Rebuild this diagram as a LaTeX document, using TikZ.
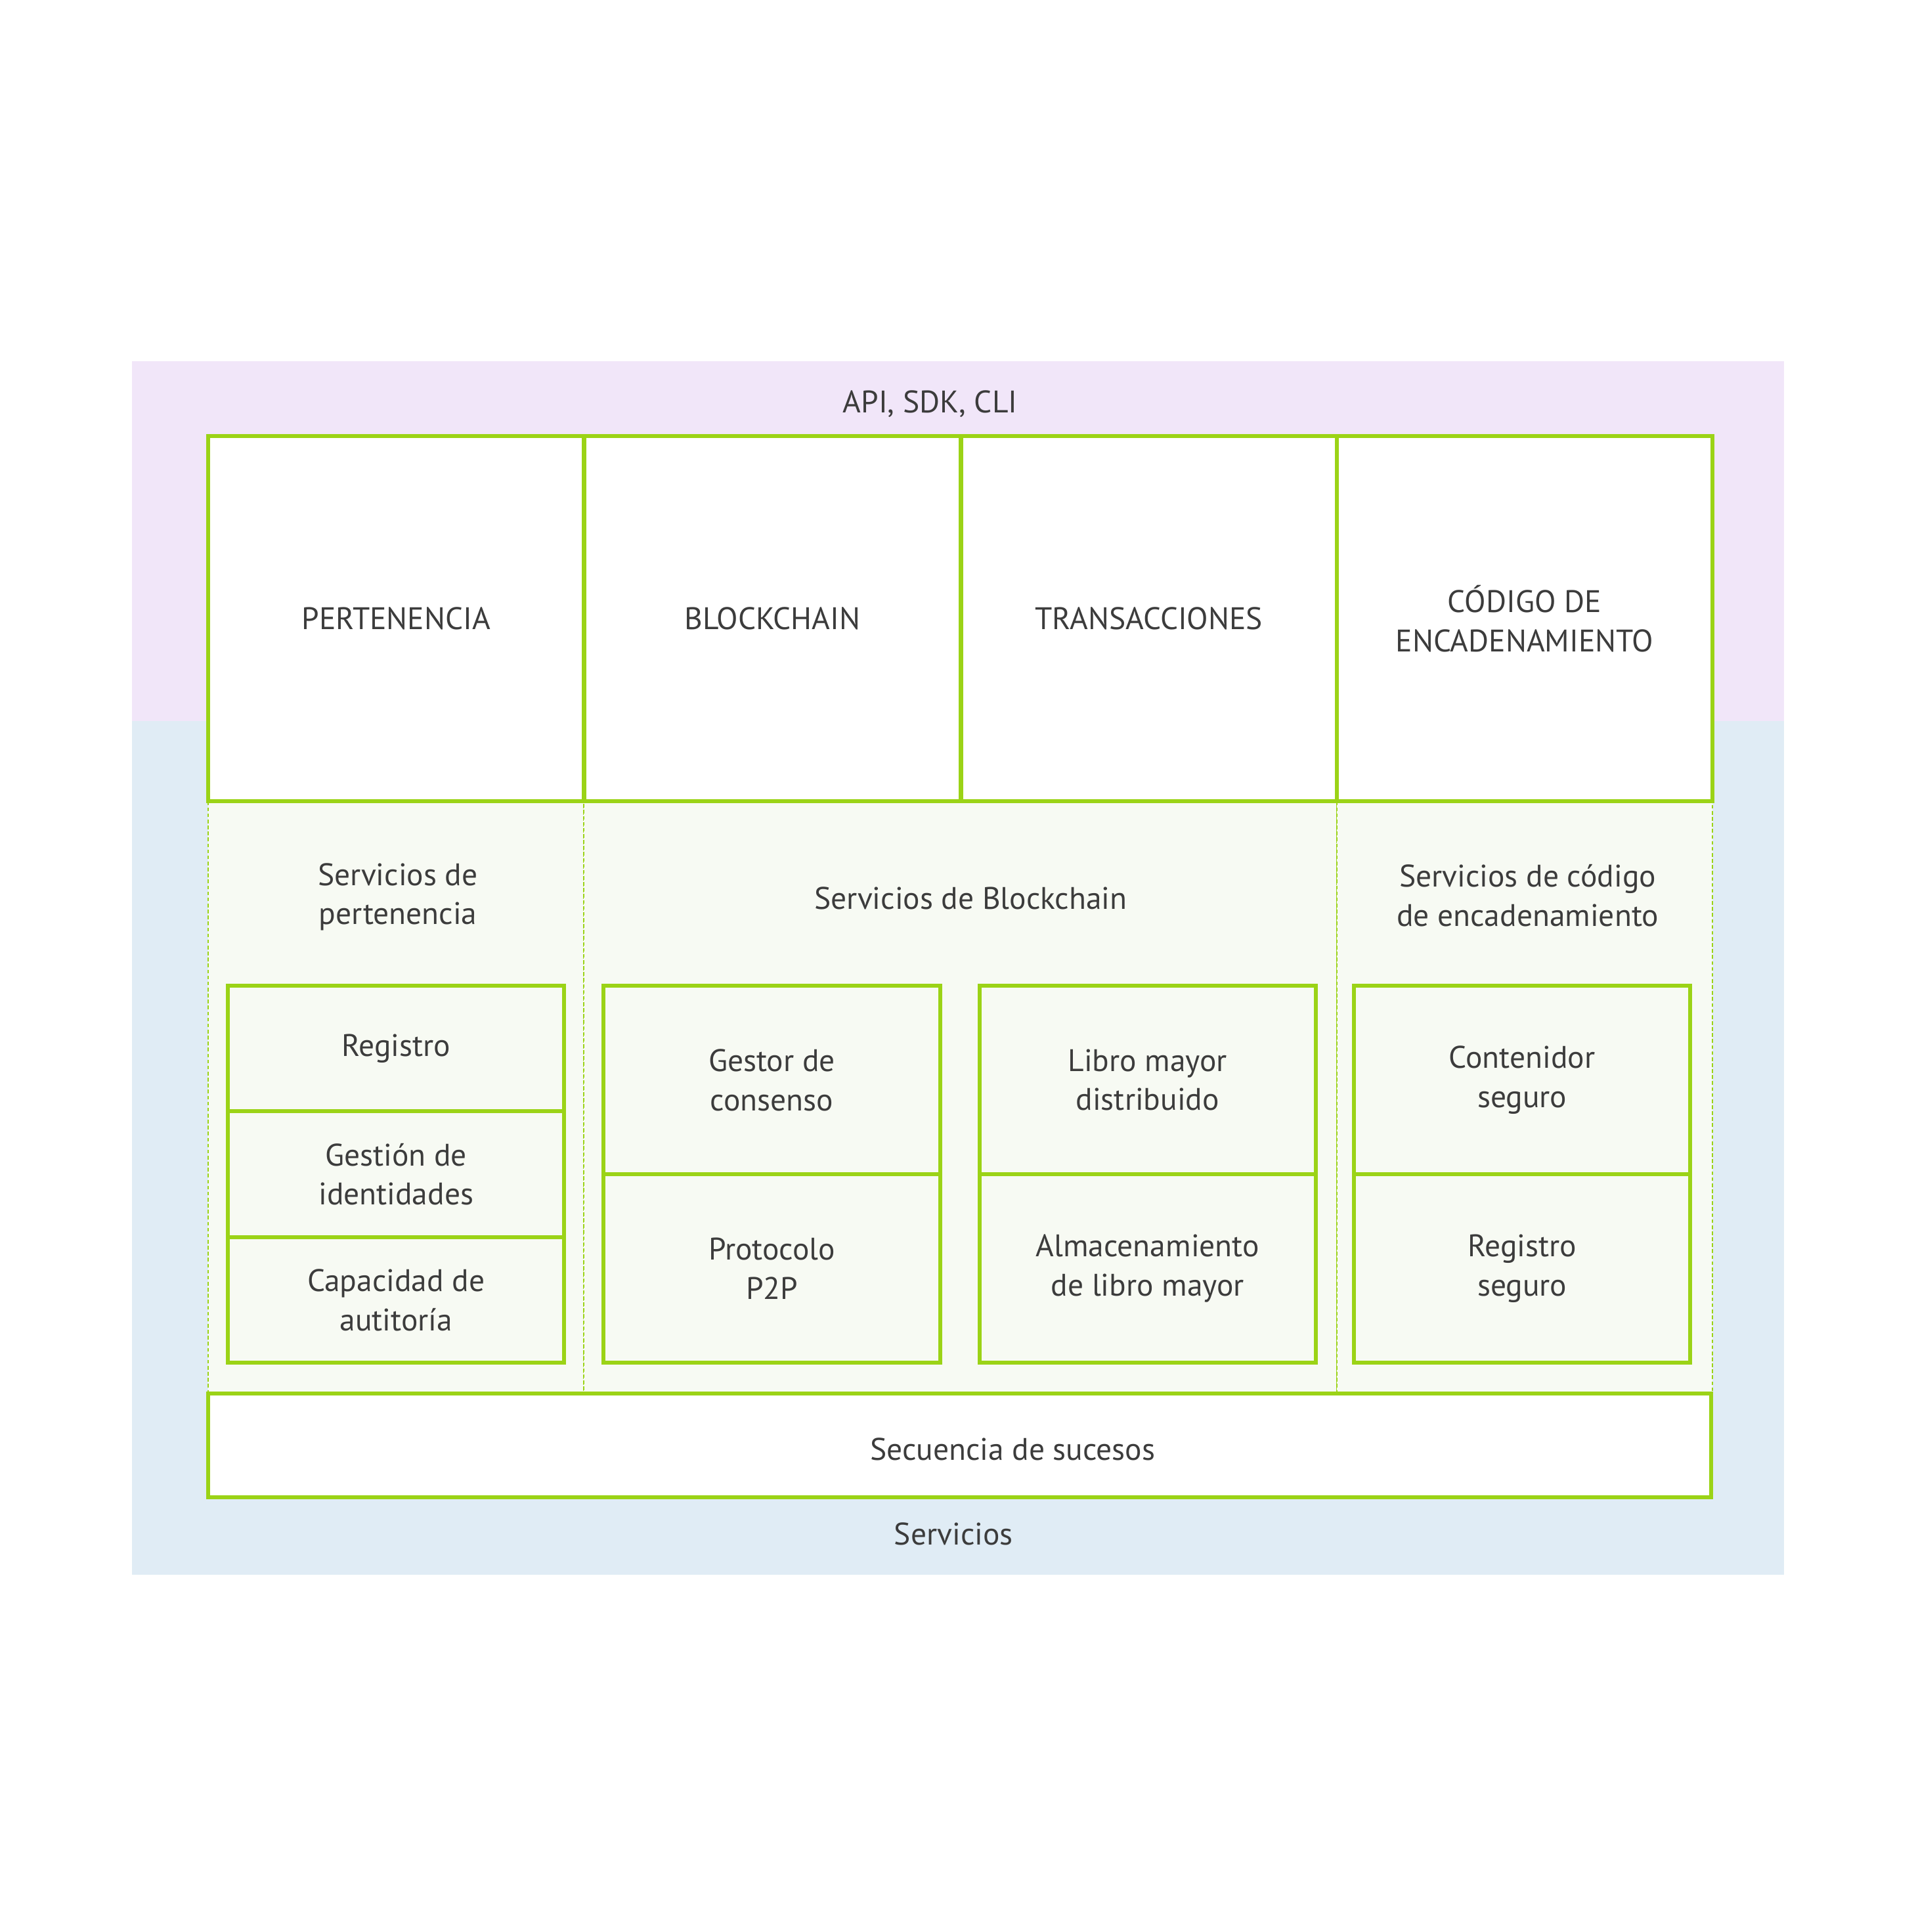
\documentclass[tikz,border=0pt]{standalone}
\usepackage{fontspec}
\setmainfont{PT Sans}
\newcommand\upx{0.01876cm}
\definecolor{lima}{HTML}{9BD316}
\definecolor{txtgray}{HTML}{3C3C3C}
\definecolor{apibg}{HTML}{F1E6F9}
\definecolor{srvbg}{HTML}{E0ECF5}
\definecolor{areabg}{HTML}{F7FAF3}
\tikzset{
  every node/.style={text=txtgray, font=\fontsize{13.5}{17}\selectfont, align=center,
    inner sep=0pt, outer sep=0pt},
  topbox/.style={draw=lima, line width=1.7pt, fill=white,
    minimum width=305*\upx, minimum height=296*\upx},
  areabox/.style={draw=lima, line width=0.6pt, dash pattern=on 1.6pt off 1pt, fill=areabg,
    minimum height=481*\upx},
  subbox/.style={draw=lima, line width=1.7pt, minimum width=273*\upx}
}
\begin{document}
\begin{tikzpicture}[x=0.01876cm, y=-0.01876cm]
\useasboundingbox[fill=white] (0,0) rectangle (1555,1568);

% background bands
\fill[apibg] (107,293) rectangle (1448,585);
\fill[srvbg] (107,585) rectangle (1448,1278);
\node (api) at (755,328) {API, SDK, CLI};
\node (srv) at (774,1245) {Servicios};

% service areas
\begin{scope}[every node/.append style={areabox}]
    \node[minimum width=305*\upx] (amem) at (321.5,890.5) {};
    \node[minimum width=611*\upx] (ablk) at (779.5,890.5) {};
    \node[minimum width=305*\upx] (acod) at (1237.5,890.5) {};
\end{scope}
\node (lmem) at (323,728) {Servicios de\\pertenencia};
\node (lblk) at (788,729) {Servicios de Blockchain};
\node (lcod) at (1240,727) {Servicios de código\\de encadenamiento};

% top row
\begin{scope}[every node/.append style={topbox}]
    \node (pert) at (321.5,502) {PERTENENCIA};
    \node (blk) at (627,502) {BLOCKCHAIN};
    \node (trans) at (932.5,502) {TRANSACCIONES};
    \node (cod) at (1237.5,502) {CÓDIGO DE\\ENCADENAMIENTO};
\end{scope}

% inner boxes
\begin{scope}[every node/.append style={subbox, minimum height=102*\upx}]
    \node (reg) at (321.5,851) {Registro};
    \node (ident) at (321.5,953) {Gestión de\\identidades};
    \node (audit) at (321.5,1055) {Capacidad de\\autitoría};
\end{scope}
\begin{scope}[every node/.append style={subbox, minimum height=153*\upx}]
    \node (cons) at (626.5,876.5) {Gestor de\\consenso};
    \node (ptp) at (626.5,1029.5) {Protocolo\\P2P};
    \node (ledger) at (931.5,876.5) {Libro mayor\\distribuido};
    \node (store) at (931.5,1029.5) {Almacenamiento\\de libro mayor};
    \node (cont) at (1235.5,876.5) {Contenidor\\seguro};
    \node (sreg) at (1235.5,1029.5) {Registro\\seguro};
\end{scope}

% event stream
\node[draw=lima, line width=1.7pt, fill=white, minimum width=1220*\upx, minimum height=84*\upx]
    (events) at (779,1173) {};
\node (lev) at (822,1176) {Secuencia de sucesos};
\end{tikzpicture}
\end{document}
